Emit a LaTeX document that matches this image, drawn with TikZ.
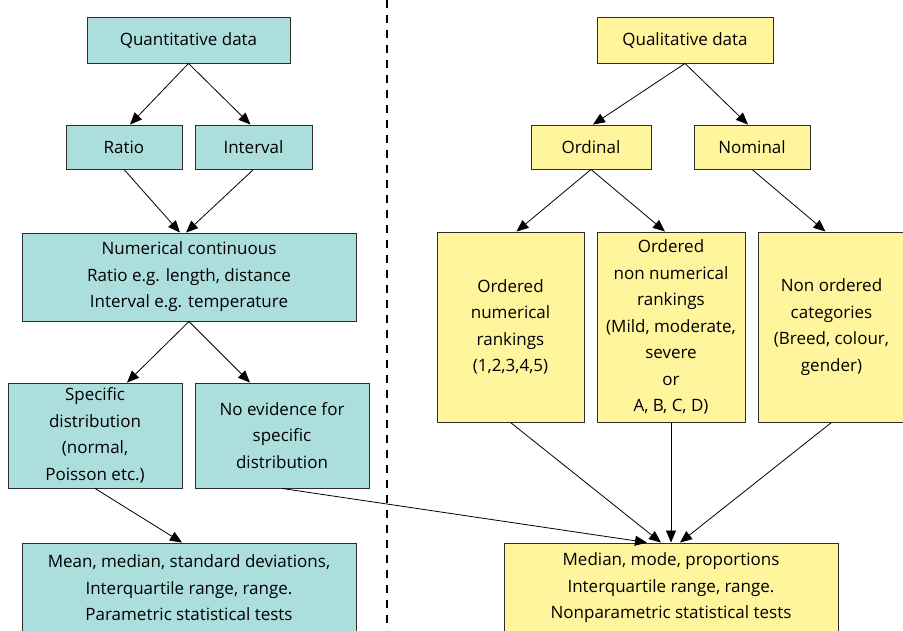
\documentclass[tikz,border=0pt]{standalone}
\usepackage{fontspec}
\setmainfont{Open Sans}
\usetikzlibrary{arrows.meta}
\definecolor{quantfill}{RGB}{173,222,222}
\definecolor{qualfill}{RGB}{255,245,157}
\definecolor{boxline}{RGB}{45,45,45}
\tikzstyle{chart}=[x=1pt, y=-1pt, font=\fontsize{17}{26.5}\selectfont]
\tikzstyle{box}=[rectangle, draw=boxline, line width=0.9pt, align=center, inner sep=0pt]
\tikzstyle{qn}=[box, fill=quantfill]
\tikzstyle{ql}=[box, fill=qualfill]
\tikzstyle{edge}=[-{Triangle[length=12pt, width=10pt]}, line width=0.8pt]
\tikzstyle{divider}=[line width=1.6pt, dash pattern=on 8pt off 7pt]

\begin{document}
\begin{tikzpicture}[chart]
	\useasboundingbox (0,0) rectangle (903,630);
	% quantitative side
	\draw (188.5,40) node[qn, minimum width=203pt, minimum height=46pt] (quant) {Quantitative data};
	\draw (124,147) node[qn, minimum width=116pt, minimum height=44pt] (ratio) {Ratio};
	\draw (253.5,147) node[qn, minimum width=117pt, minimum height=44pt] (interval) {Interval};
	\draw (189,277) node[qn, minimum width=334pt, minimum height=88pt] (numcont) {Numerical continuous\\Ratio e.g. length, distance\\Interval e.g. temperature};
	\draw (95,435.5) node[qn, minimum width=174pt, minimum height=105pt] (specdist) {Specific\\distribution\\(normal,\\Poisson etc.)};
	\draw (282,435.5) node[qn, minimum width=174pt, minimum height=105pt] (noevid) {No evidence for\\specific\\distribution};
	\draw (189,588) node[qn, minimum width=334pt, minimum height=90pt] (param) {Mean, median, standard deviations,\\Interquartile range, range.\\Parametric statistical tests};
	%
	\coordinate (divtop) at (387,0);
	\coordinate (divbot) at (387,630);
	\draw[divider] (divtop) -- (divbot);
	%
	% qualitative side
	\draw (685,40) node[ql, minimum width=176pt, minimum height=46pt] (qual) {Qualitative data};
	\draw (591,147) node[ql, minimum width=120pt, minimum height=44pt] (ordinal) {Ordinal};
	\draw (752,147) node[ql, minimum width=116pt, minimum height=44pt] (nominal) {Nominal};
	\draw (510.5,327) node[ql, minimum width=147pt, minimum height=190pt] (ordnum) {Ordered\\numerical\\rankings\\(1,2,3,4,5)};
	\draw (671,327) node[ql, minimum width=148pt, minimum height=190pt] (ordnon) {Ordered\\non numerical\\rankings\\(Mild, moderate,\\severe\\or\\A, B, C, D)};
	\draw (831.5,327) node[ql, minimum width=147pt, minimum height=190pt] (nonord) {Non ordered\\categories\\(Breed, colour,\\gender)};
	\draw (671,588) node[ql, minimum width=334pt, minimum height=90pt] (nonparam) {Median, mode, proportions\\Interquartile range, range.\\Nonparametric statistical tests};
	%
	\draw[edge] (quant.south) -- ([xshift=6pt]ratio.north);
	\draw[edge] (quant.south) -- ([xshift=-3pt]interval.north);
	\draw[edge] (ratio.south) -- ([xshift=-9pt]numcont.north);
	\draw[edge] (interval.south) -- ([xshift=-3pt]numcont.north);
	\draw[edge] (numcont.south) -- ([xshift=32pt]specdist.north);
	\draw[edge] (numcont.south) -- ([xshift=-32pt]noevid.north);
	\draw[edge] (specdist.south) -- ([xshift=-7pt]param.north);
	\draw[edge] (noevid.south) -- ([xshift=-24pt]nonparam.north);
	%
	\draw[edge] (qual.south) -- ([xshift=2pt]ordinal.north);
	\draw[edge] (qual.south) -- ([xshift=-4pt]nominal.north);
	\draw[edge] (ordinal.south) -- ([xshift=6pt]ordnum.north);
	\draw[edge] (ordinal.south) -- ([xshift=-6pt]ordnon.north);
	\draw[edge] (nominal.south) -- ([xshift=-6pt]nonord.north);
	\draw[edge] (ordnum.south) -- ([xshift=-10pt]nonparam.north);
	\draw[edge] (ordnon.south) -- (nonparam.north);
	\draw[edge] (nonord.south) -- ([xshift=9pt]nonparam.north);
\end{tikzpicture}
\end{document}
